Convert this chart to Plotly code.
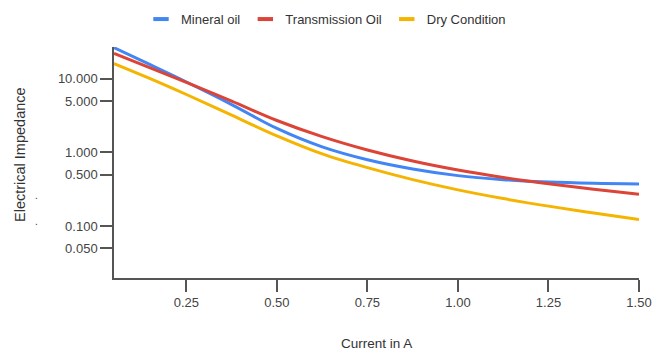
import plotly.graph_objects as go

current = [0.05, 0.15, 0.25, 0.375, 0.5, 0.625, 0.75, 0.875, 1.0, 1.125, 1.25, 1.375, 1.5]
mineral_oil = [26.4, 15.54, 9.05, 4.47, 2.117, 1.19, 0.796, 0.597, 0.485, 0.428, 0.396, 0.381, 0.374]
transmission_oil = [22.1, 14.09, 8.95, 4.97, 2.714, 1.639, 1.080, 0.765, 0.577, 0.458, 0.377, 0.317, 0.2705]
dry_condition = [16.1, 10.05, 6.12, 3.21, 1.68, 0.957, 0.622, 0.428, 0.311, 0.237, 0.187, 0.151, 0.123]

series_names = ["Mineral oil", "Transmission Oil", "Dry Condition"]
series_values = [mineral_oil, transmission_oil, dry_condition]
colors = ["#4285F4", "#DB4437", "#F4B400"]

y_ticks = [0.05, 0.1, 0.5, 1, 5, 10]
x_ticks = [0.25, 0.5, 0.75, 1.0, 1.25, 1.5]

FONT = "Liberation Sans, Arial, sans-serif"

fig = go.Figure()
for name, vals, col in zip(series_names, series_values, colors):
    fig.add_trace(go.Scatter(
        x=current, y=vals, mode="lines", name=name,
        line=dict(color=col, width=3, shape="spline", smoothing=1.0),
        showlegend=False,
    ))
    # legend entry with short thick bar symbol
    fig.add_trace(go.Scatter(
        x=[None], y=[None], mode="markers", name=name,
        marker=dict(symbol="line-ew", size=11, color=col,
                    line=dict(color=col, width=4)),
        showlegend=True,
    ))

axis_col = "#555555"
fig.update_layout(
    width=652, height=354,
    margin=dict(l=114, r=13, t=47, b=76, autoexpand=False),
    paper_bgcolor="white", plot_bgcolor="white",
    font=dict(family=FONT, size=12, color="#333333"),
    legend=dict(orientation="h", xref="container", x=0.5, xanchor="center",
                yref="container", y=0.946, yanchor="middle",
                font=dict(size=13, color="#333333"),
                itemwidth=30, tracegroupgap=0),
    xaxis=dict(
        range=[0.05, 1.5], tickvals=x_ticks, tickformat=".2f", automargin=False,
        showline=True, linecolor=axis_col, linewidth=1.5,
        ticks="outside", ticklen=12, tickcolor=axis_col, tickwidth=1.5,
        showgrid=False, zeroline=False,
        tickfont=dict(size=13, color="#444444"),
    ),
    yaxis=dict(
        type="log", range=[-1.7034, 1.4313], tickvals=y_ticks, tickformat=".3f",
        automargin=False,
        showline=True, linecolor=axis_col, linewidth=1.5,
        ticks="outside", ticklen=12, tickcolor=axis_col, tickwidth=1.5,
        showgrid=False, zeroline=False,
        tickfont=dict(size=13, color="#444444"),
    ),
    annotations=[
        dict(text="Current in A", xref="paper", yref="paper", x=0.5, y=-0.2834,
             xanchor="center", yanchor="middle", showarrow=False,
             font=dict(size=13.5, color="#333333")),
        dict(text="Electrical Impedance", xref="paper", yref="paper", x=-0.179, y=0.5325,
             xanchor="center", yanchor="middle", textangle=-90, showarrow=False,
             font=dict(size=14.5, color="#333333")),
        dict(text=".", xref="paper", yref="paper", x=-0.148, y=0.355,
             xanchor="center", yanchor="middle", showarrow=False,
             font=dict(size=10, color="#333333")),
        dict(text=".", xref="paper", yref="paper", x=-0.148, y=0.245,
             xanchor="center", yanchor="middle", showarrow=False,
             font=dict(size=10, color="#333333")),
    ],
)

fig.write_html("out.html")
